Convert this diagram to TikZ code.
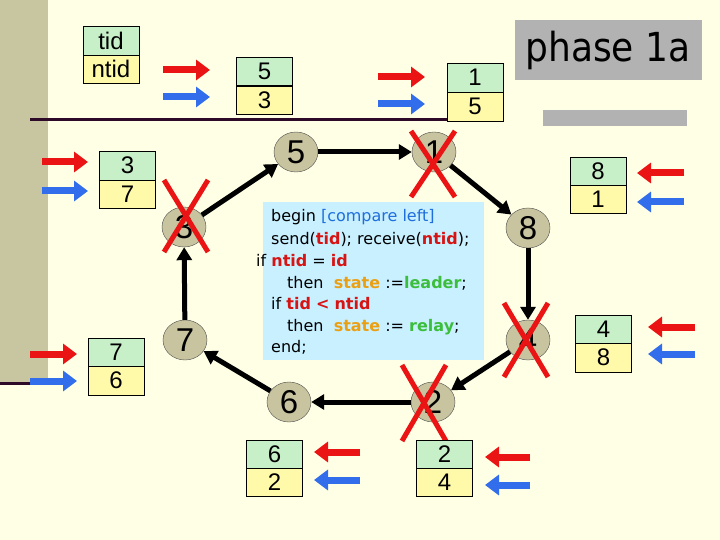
\documentclass[tikz,border=0pt]{standalone}
\usepackage{fontspec}
\setmainfont{Liberation Sans}
\newfontfamily\codef{DejaVu Sans}
\usetikzlibrary{shapes.geometric,arrows.meta}
\definecolor{bg}{RGB}{255,255,230}
\definecolor{strip}{RGB}{200,198,160}
\definecolor{nodefill}{RGB}{200,196,160}
\definecolor{cgreen}{RGB}{200,240,200}
\definecolor{cyellow}{RGB}{255,250,170}
\definecolor{codebg}{RGB}{200,240,255}
\definecolor{ared}{RGB}{235,20,20}
\definecolor{ablue}{RGB}{50,110,235}
\definecolor{kred}{RGB}{215,20,20}
\definecolor{kora}{RGB}{235,160,20}
\definecolor{kgreen}{RGB}{60,190,60}
\definecolor{kblue}{RGB}{30,110,220}
\definecolor{dline}{RGB}{45,10,40}
\begin{document}
\begin{tikzpicture}[x=1pt,y=-1pt,
 proc/.style={ellipse,draw=black!70,fill=nodefill,minimum width=44pt,minimum height=40pt,inner sep=0pt,font=\fontsize{33}{33}\selectfont},
 edge/.style={line width=5pt,-{Triangle[length=13pt,width=15pt]}},
 cell/.style={draw=black,minimum width=56pt,minimum height=28.5pt,inner sep=0pt,font=\fontsize{24}{24}\selectfont},
 top/.style={cell,fill=cgreen},
 bot/.style={cell,fill=cyellow},
 msg/.style={line width=7pt,-{Triangle[length=14pt,width=20pt]}},
 cross/.style={draw=ared,line width=5pt}]
\fill[bg] (0,0) rectangle (720,540);
\useasboundingbox (0,0) rectangle (720,540);
\fill[strip] (0,0) rectangle (48,385);
\draw[dline,line width=3pt] (30,120) -- (497,120);
\draw[dline,line width=3pt] (0,383) -- (48,383);
\fill[black!30] (543,110) rectangle (687,126);
\node[fill=black!30,minimum width=187pt,minimum height=60pt,inner sep=0pt,font=\codef\fontsize{40}{40}\selectfont] (ph) at (608,50) {\scalebox{0.9}[1]{phase 1a}};

% code box
\fill[codebg] (263,202) rectangle (484,360);
\begin{scope}[every node/.style={anchor=base west,inner sep=0pt,font=\codef\fontsize{16}{16}\selectfont}]
\node (c1) at (271,222) {begin \textcolor{kblue}{[compare left]}};
\node (c2) at (271,244) {send(\textcolor{kred}{\textbf{tid}}); receive(\textcolor{kred}{\textbf{ntid}});};
\node (c3) at (256,266) {if \textcolor{kred}{\textbf{ntid}} = \textcolor{kred}{\textbf{id}}};
\node (c4) at (287,288) {then \ \textcolor{kora}{\textbf{state}} :=\textcolor{kgreen}{\textbf{leader}};};
\node (c5) at (271,309) {if \textcolor{kred}{\textbf{tid}} \textcolor{kred}{\textbf{<}} \textcolor{kred}{\textbf{ntid}}};
\node (c6) at (287,331) {then \ \textcolor{kora}{\textbf{state}} := \textcolor{kgreen}{\textbf{relay}};};
\node (c7) at (271,352) {end;};
\end{scope}

% ring
\node[proc] (n5) at (296,152) {5};
\node[proc] (n1) at (434,152) {1};
\node[proc] (n8) at (528,228) {8};
\node[proc] (n4) at (528,340) {4};
\node[proc] (n2) at (433,402) {2};
\node[proc] (n6) at (289,402) {6};
\node[proc] (n7) at (185,340) {7};
\node[proc] (n3) at (184,227) {3};
\draw[edge] (n5) -- (n1);
\draw[edge] (n1) -- (n8);
\draw[edge] (n8) -- (n4);
\draw[edge] (n4) -- (n2);
\draw[edge] (n2) -- (n6);
\draw[edge] (n6) -- (n7);
\draw[edge] (n7) -- (n3);
\draw[edge] (n3) -- (n5);

% crosses
\foreach \cx/\cy/\h in {433/164/33, 186/216/36, 526/340/37, 424/403/38}{
  \draw[cross] (\cx-22,\cy-\h) -- (\cx+22,\cy+\h);
  \draw[cross] (\cx+22,\cy-\h) -- (\cx-22,\cy+\h);
}

% tables
\node[top] (lt) at (111,40.5) {tid};
\node[bot] (lb) at (111,69) {ntid};
\node[top] (t5) at (264.5,71) {5};
\node[bot] (b5) at (264.5,100) {3};
\node[top] (t1) at (475,77.5) {1};
\node[bot] (b1) at (475,106.5) {5};
\node[top] (t3) at (127.5,165.5) {3};
\node[bot] (b3) at (127.5,194) {7};
\node[top] (t7) at (116,352) {7};
\node[bot] (b7) at (116,380.5) {6};
\node[top] (t8) at (598,171) {8};
\node[bot] (b8) at (598,199) {1};
\node[top] (t4) at (603.5,329) {4};
\node[bot] (b4) at (603.5,357.5) {8};
\node[top] (t6) at (274.5,454) {6};
\node[bot] (b6) at (274.5,482) {2};
\node[top] (t2) at (444.5,454) {2};
\node[bot] (b2) at (444.5,482) {4};

% message arrows
\foreach \xa/\xb/\yr/\yb in {163/210/70/97, 378/425/77/104, 42/88/162/191, 30/77/354/381,
  684/637/173/202, 695/648/327/354, 360/314/452/480, 530/485/457/485}{
  \draw[msg,ared] (\xa,\yr) -- (\xb,\yr);
  \draw[msg,ablue] (\xa,\yb) -- (\xb,\yb);
}
\end{tikzpicture}
\end{document}
